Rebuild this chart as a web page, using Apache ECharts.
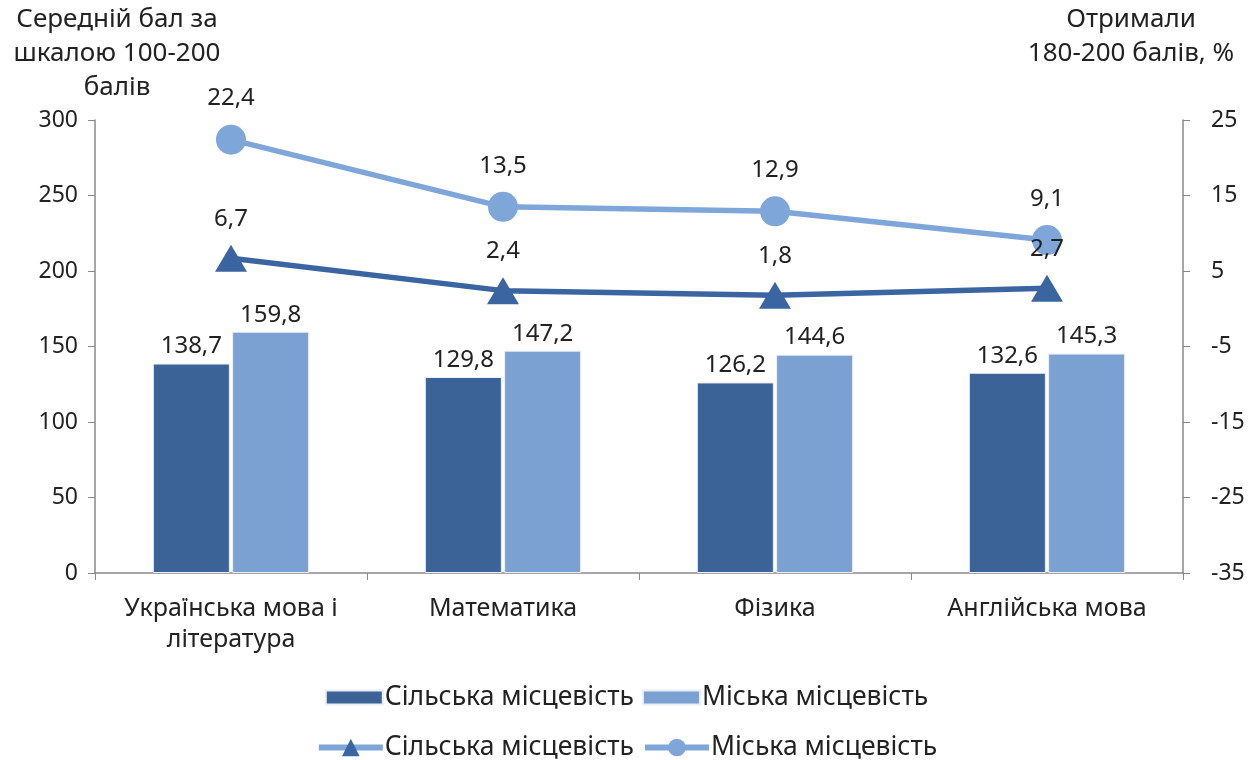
<!DOCTYPE html>
<html><head><meta charset="utf-8">
<script src="https://cdn.jsdelivr.net/npm/echarts@6/dist/echarts.min.js"></script>
<style>html,body{margin:0;padding:0;background:#fff}#c{width:1253px;height:760px}</style>
</head><body><div id="c"></div>
<script>
const categories = ['Українська мова і\nлітература', 'Математика', 'Фізика', 'Англійська мова'];
const ruralScore = [138.7, 129.8, 126.2, 132.6];
const urbanScore = [159.8, 147.2, 144.6, 145.3];
const ruralTop = [6.7, 2.4, 1.8, 2.7];
const urbanTop = [22.4, 13.5, 12.9, 9.1];
const leftTitle = 'Середній бал за\nшкалою 100-200\nбалів';
const rightTitle = 'Отримали\n180-200 балів, %';
const seriesNames = ['Сільська місцевість', 'Міська місцевість'];

const dark = '#3c6398', light = '#7ba1d2';
const lineDark = '#3b65a1', lineLight = '#7fa6d8';
const txt = '#222';
const fmt = p => String(p.value).replace('.', ',');
const font = 'Noto Sans, sans-serif';

const chart = echarts.init(document.getElementById('c'), null, {renderer: 'canvas'});
chart.setOption({
  animation: false,
  backgroundColor: '#fff',
  grid: {left: 95, right: 70, top: 120, bottom: 187},
  graphic: [
    {type: 'text', x: 117, y: 3, style: {text: leftTitle, fontSize: 26, fontFamily: font, fill: txt, align: 'center', verticalAlign: 'top', lineHeight: 34}},
    {type: 'text', x: 1131, y: 3, style: {text: rightTitle, fontSize: 26, fontFamily: font, fill: txt, align: 'center', verticalAlign: 'top', lineHeight: 34}}
  ],
  legend: [
    {data: seriesNames.map(n => ({name: n, icon: 'rect'})), top: 679, left: 'center', itemWidth: 57, itemHeight: 14, itemGap: 8,
     textStyle: {fontSize: 26.5, fontFamily: font, color: txt, padding: [0, 0, 0, -3]}},
    {data: seriesNames.map(n => ({name: n + ' ', lineStyle: {color: lineLight, width: 6}})), top: 729, left: 'center', itemWidth: 64, itemHeight: 22, itemGap: 8,
     formatter: n => n.trim(),
     textStyle: {fontSize: 26.5, fontFamily: font, color: txt, padding: [0, 0, 0, -3]}}
  ],
  xAxis: {
    type: 'category', data: categories,
    axisLine: {lineStyle: {color: '#888', width: 1.5}},
    axisTick: {show: true, length: 7, lineStyle: {color: '#888'}},
    axisLabel: {interval: 0, fontSize: 25, fontFamily: font, color: txt, margin: 20, lineHeight: 31}
  },
  yAxis: [
    {type: 'value', min: 0, max: 300, interval: 50, position: 'left',
     splitLine: {show: false},
     axisLine: {show: true, lineStyle: {color: '#888', width: 1.5}},
     axisTick: {show: true, length: 7, lineStyle: {color: '#888'}},
     axisLabel: {fontSize: 23, fontFamily: font, color: txt, margin: 17}},
    {type: 'value', min: -35, max: 25, interval: 10, position: 'right',
     splitLine: {show: false},
     axisLine: {show: true, lineStyle: {color: '#888', width: 1.5}},
     axisTick: {show: true, length: 7, lineStyle: {color: '#888'}},
     axisLabel: {fontSize: 23, fontFamily: font, color: txt, margin: 28}}
  ],
  series: [
    {name: seriesNames[0], type: 'bar', data: ruralScore, yAxisIndex: 0, barWidth: 77, barGap: '3%',
     itemStyle: {color: dark, borderColor: '#e8eef6', borderWidth: 1},
     label: {show: true, position: 'top', formatter: fmt, fontSize: 24, fontFamily: font, color: txt, distance: 5}},
    {name: seriesNames[1], type: 'bar', data: urbanScore, yAxisIndex: 0, barWidth: 77,
     itemStyle: {color: light, borderColor: '#e8eef6', borderWidth: 1},
     label: {show: true, position: 'top', formatter: fmt, fontSize: 24, fontFamily: font, color: txt, distance: 5}},
    {name: seriesNames[0] + ' ', type: 'line', data: ruralTop, yAxisIndex: 1, z: 5,
     symbol: 'triangle', symbolSize: [32, 27],
     lineStyle: {color: lineDark, width: 5.5}, itemStyle: {color: lineDark},
     label: {show: true, position: 'top', formatter: fmt, fontSize: 24, fontFamily: font, color: txt, distance: 14}},
    {name: seriesNames[1] + ' ', type: 'line', data: urbanTop, yAxisIndex: 1, z: 5,
     symbol: 'circle', symbolSize: 30,
     lineStyle: {color: lineLight, width: 5.5}, itemStyle: {color: lineLight},
     label: {show: true, position: 'top', formatter: fmt, fontSize: 24, fontFamily: font, color: txt, distance: 14}}
  ]
});
</script></body></html>
